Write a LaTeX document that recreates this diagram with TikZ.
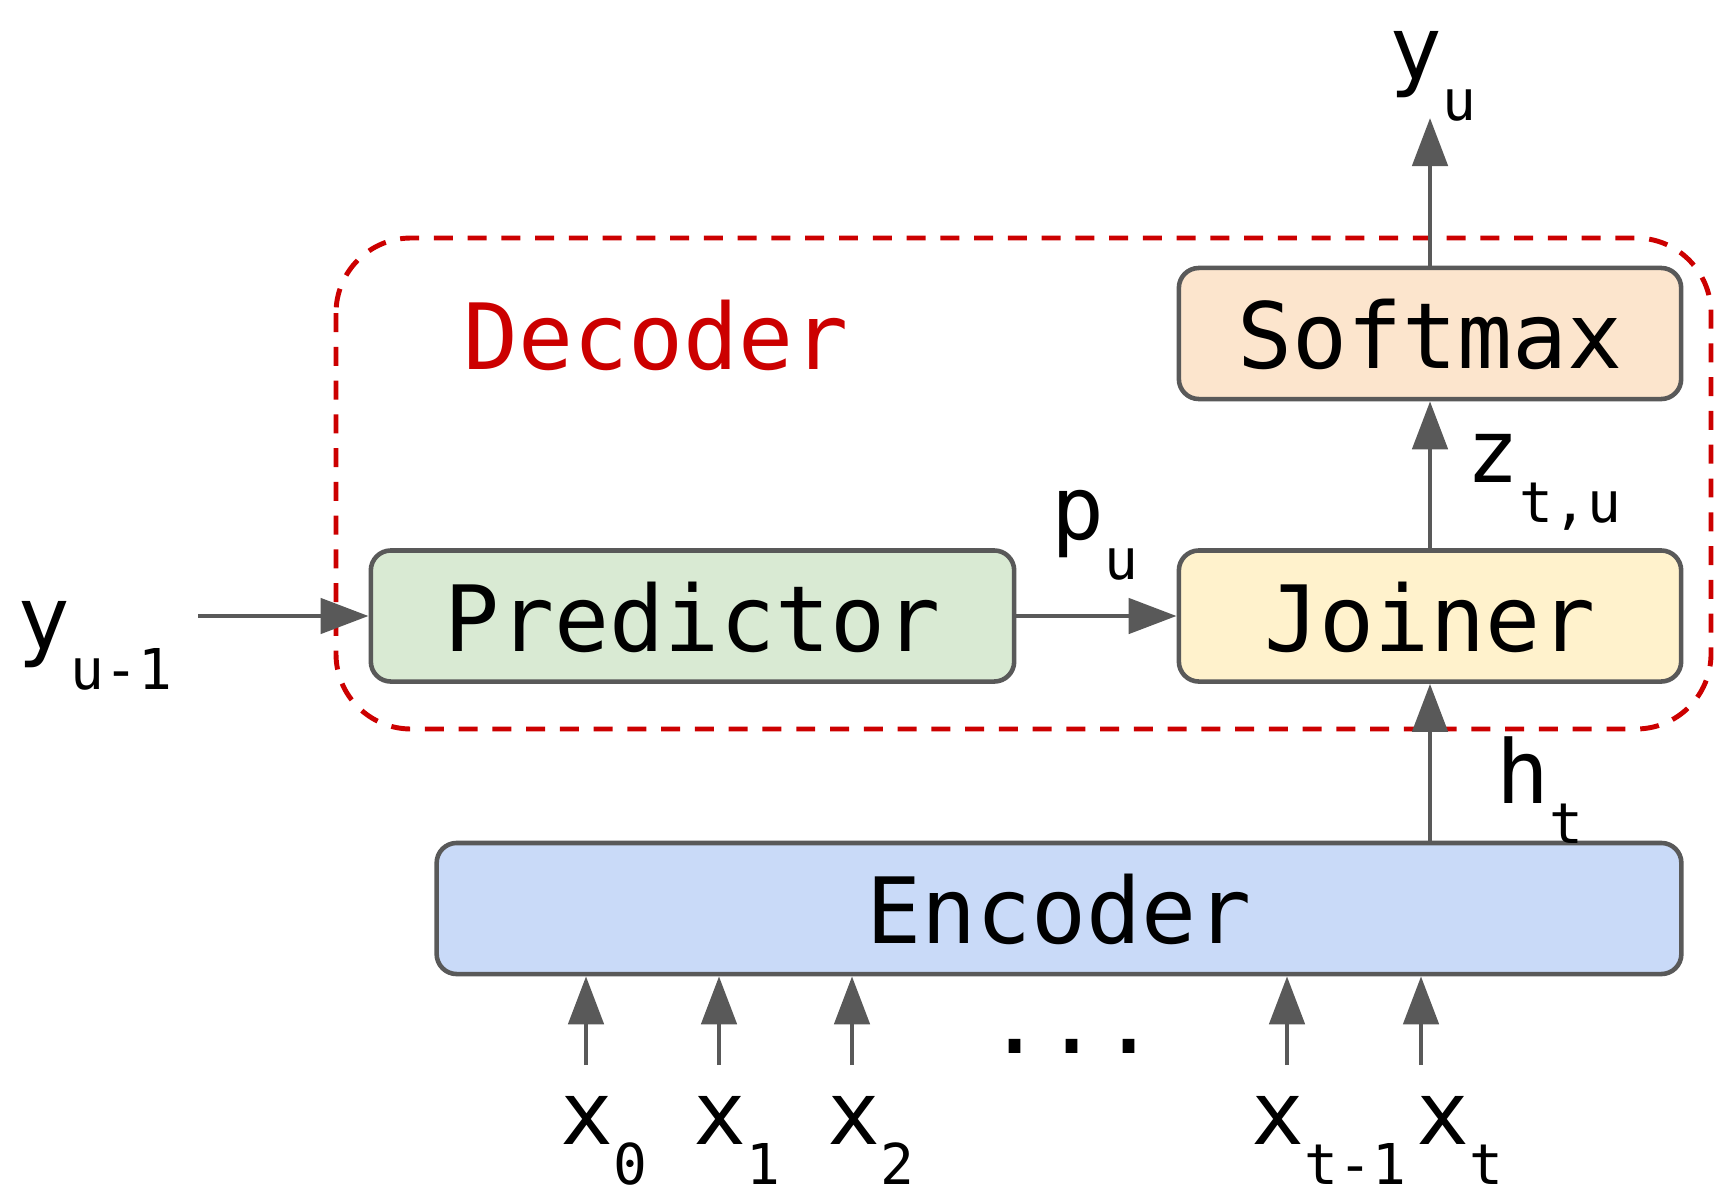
\documentclass[tikz,border=0pt]{standalone}
\usepackage{fontspec}
\setmainfont{DejaVu Sans Mono}
\usetikzlibrary{arrows.meta}

\definecolor{boxline}{HTML}{595959}
\definecolor{decred}{HTML}{CC0000}
\definecolor{softfill}{HTML}{FCE5CD}
\definecolor{joinfill}{HTML}{FFF2CC}
\definecolor{predfill}{HTML}{D9EAD3}
\definecolor{encfill}{HTML}{C9DAF8}

\newcommand{\sublbl}[2]{{\fontsize{25}{25}\selectfont #1}\raisebox{-11.5pt}{\fontsize{16}{16}\selectfont #2}}

\tikzset{
  block/.style={draw=boxline, line width=1.3pt, rounded corners=0.2cm,
    minimum height=1.31cm, inner sep=0pt, text height=0.7cm, text depth=0pt,
    font=\fontsize{26}{26}\selectfont},
  flow/.style={draw=boxline, line width=1.4pt, -{Triangle[length=4.8mm,width=3.5mm]}},
  lbl/.style={anchor=base west, inner sep=0pt},
  frame/.style={draw=decred, line width=1.4pt, rounded corners=0.75cm,
    dash pattern=on 5.4pt off 4.2pt},
}

\begin{document}
\begin{tikzpicture}[x=0.01cm, y=-0.01cm]
\useasboundingbox (0,0) rectangle (1725,1197);

% decoder frame
\draw[frame] (336,238) rectangle (1711,729);
\node[lbl, text=decred, font=\fontsize{26}{26}\selectfont] (dectitle) at (463,369) {Decoder};

% blocks
\node[block, fill=softfill, minimum width=5.02cm] (softmax) at (1430,333.5) {Softmax};
\node[block, fill=joinfill, minimum width=5.02cm] (joiner) at (1430,616) {Joiner};
\node[block, fill=predfill, minimum width=6.43cm] (predictor) at (692.5,616) {Predictor};
\node[block, fill=encfill, minimum width=12.44cm] (encoder) at (1059,908.5) {Encoder};

% labels
\node[lbl] (yu) at (1389,80) {\sublbl{y}{u}};
\node[lbl] (pu) at (1051,539) {\sublbl{p}{u}};
\node[lbl] (ztu) at (1466,482) {\sublbl{z}{t,u}};
\node[lbl] (ht) at (1496,803) {\sublbl{h}{t}};
\node[lbl] (yprev) at (17,649) {\sublbl{y}{u-1}};

% output and decoder arrows
\coordinate (out) at (1430,118);
\coordinate (previn) at (198,616);
\draw[flow] (softmax.north) -- (out);
\draw[flow] (joiner.north) -- (softmax.south);
\draw[flow] (predictor.east) -- (joiner.west);
\draw[flow] (previn) -- (predictor.west);
\draw[flow] (joiner.south |- encoder.north) -- (joiner.south);

% encoder inputs
\foreach \name/\px/\lx/\sub in {x0/586/560/0, x1/719/693/1, x2/852/827/2, xtm/1287/1251/t-1, xt/1421/1416/t}{
  \coordinate (in\name) at (\px,1065);
  \draw[flow] (in\name) -- (in\name |- encoder.south);
  \node[lbl] (lbl\name) at (\lx,1144) {\sublbl{x}{\sub}};
}
\node[anchor=base, inner sep=0pt, font=\fontsize{27}{27}\selectfont] (dots) at (1072,1053) {...};

\end{tikzpicture}
\end{document}
